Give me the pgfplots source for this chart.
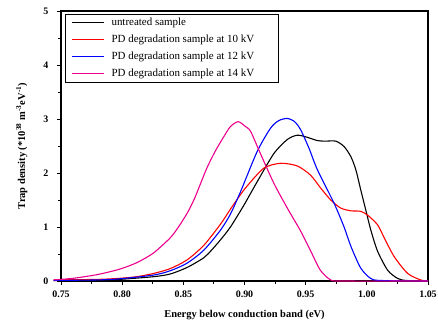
\documentclass[border=0pt]{standalone}
\usepackage{pgfplots}
\pgfplotsset{compat=1.18}
\usepackage{fontspec}
\setmainfont{Liberation Serif}
\newcommand{\legbox}[1]{\fontsize{11}{13}\selectfont\makebox[161bp][l]{\strut #1}}
\begin{document}
\begin{tikzpicture}
\begin{axis}[
  name=ax,
  scale only axis,
  width=367bp, height=270bp,
  at={(0,0)}, anchor=south west,
  xmin=0.75, xmax=1.05, ymin=0, ymax=5,
  clip=false,
  xtick={0.75,0.80,...,1.05},
  ytick={0,1,2,3,4,5},
  minor x tick num=1, minor y tick num=1,
  xtick pos=left, ytick pos=left,
  tick align=outside,
  major tick length=4bp, minor tick length=2.5bp,
  every tick/.style={black, line width=0.9bp},
  axis line style={line width=1.3bp},
  /pgf/number format/assume math mode=true,
  tick label style={font=\bfseries\fontsize{10}{12}\selectfont},
  xticklabel style={/pgf/number format/fixed, /pgf/number format/fixed zerofill, /pgf/number format/precision=2, yshift=-2bp},
  yticklabel style={xshift=-5bp},
  scaled x ticks=false,
  xlabel={Energy below conduction band (eV)},
  ylabel={Trap density (*10\textsuperscript{38} m\textsuperscript{-3}eV\textsuperscript{-1})},
  label style={font=\bfseries\fontsize{10.5}{12}\selectfont},
  xlabel style={at={(axis description cs:0.5,-0.126)}, anchor=center},
  ylabel style={at={(axis description cs:-0.107,0.5)}, anchor=center},
  legend style={at={(axis description cs:0.011,0.989)}, anchor=north west, draw=black, line width=0.8bp,
    inner xsep=6bp, inner ysep=0bp, row sep=0bp, column sep=7bp,
    nodes={inner xsep=0bp, inner ysep=3bp, text height=8bp, text depth=3bp}},
  legend cell align=left,
  legend image code/.code={\draw[mark repeat=2, mark phase=2, #1, line width=1.1bp] plot coordinates {(0bp,0bp) (16bp,0bp) (32bp,0bp)};},
  every axis plot/.append style={line width=1.1bp, smooth, tension=0.45},
]
\addplot[black] coordinates {
(0.744,0.01) (0.78,0.01) (0.798,0.03) (0.8257,0.08) (0.8393,0.13) (0.853,0.25)
(0.8667,0.43) (0.873,0.57) (0.8803,0.76) (0.8885,1.00) (0.8994,1.40) (0.9104,1.84) (0.924,2.36)
(0.935,2.62) (0.9432,2.70) (0.9514,2.66) (0.9596,2.60) (0.966,2.59) (0.9746,2.59)
(0.9814,2.49) (0.987,2.30) (0.991,2.06) (0.995,1.69) (0.9992,1.31) (1.0033,0.94)
(1.0088,0.55) (1.017,0.20) (1.025,0.05) (1.032,0.01) (1.05,0)
};
\addlegendentry{\legbox{untreated sample}}
\addplot[red] coordinates {
(0.744,0.02) (0.78,0.03) (0.798,0.05) (0.812,0.08) (0.8257,0.14) (0.8393,0.23)
(0.853,0.39) (0.8667,0.66) (0.8803,1.05) (0.8885,1.33) (0.8967,1.60) (0.9022,1.76)
(0.9158,2.09) (0.9295,2.18) (0.9432,2.13) (0.954,1.96) (0.9623,1.72) (0.9705,1.50)
(0.9787,1.35) (0.987,1.30) (0.995,1.29) (1.0006,1.22) (1.0088,1.04) (1.0142,0.80)
(1.0224,0.45) (1.0334,0.14) (1.044,0.02) (1.05,0)
};
\addlegendentry{\legbox{PD degradation sample at 10 kV}}
\addplot[blue] coordinates {
(0.744,0.01) (0.78,0.02) (0.798,0.04) (0.8257,0.11) (0.8393,0.19) (0.853,0.33)
(0.8667,0.57) (0.8803,0.94) (0.8885,1.24) (0.8967,1.65) (0.9104,2.40) (0.9213,2.83)
(0.928,2.97) (0.935,3.01) (0.941,2.95) (0.9459,2.80) (0.9527,2.46) (0.9596,2.06)
(0.9732,1.44) (0.9814,1.00) (0.987,0.64) (0.995,0.24) (1.003,0.05) (1.011,0.01) (1.05,0)
};
\addlegendentry{\legbox{PD degradation sample at 12 kV}}
\addplot[magenta] coordinates {
(0.744,0.02) (0.76,0.05) (0.78,0.12) (0.798,0.22) (0.812,0.34) (0.8257,0.52)
(0.8393,0.80) (0.846,1.00) (0.853,1.25) (0.859,1.52) (0.864,1.80) (0.8694,2.10)
(0.876,2.40) (0.883,2.67) (0.8885,2.86) (0.8948,2.95) (0.9008,2.86) (0.905,2.77)
(0.913,2.36) (0.924,1.81) (0.935,1.35) (0.946,0.92) (0.954,0.56) (0.962,0.20)
(0.9705,0.02) (0.98,0) (1.05,0)
};
\addlegendentry{\legbox{PD degradation sample at 14 kV}}
\end{axis}
\pgfresetboundingbox
\path (-61bp,-45bp) rectangle (377bp,281bp);
\end{tikzpicture}
\end{document}
